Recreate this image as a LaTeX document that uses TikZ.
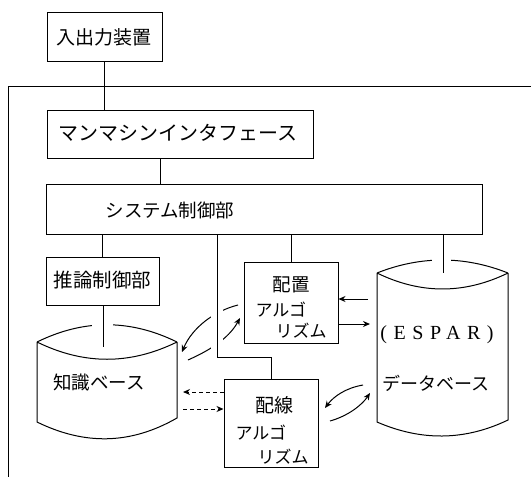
\documentclass[tikz,border=0pt]{standalone}
\usepackage{fontspec}
\newfontfamily\jp{Noto Sans CJK JP}
\newfontfamily\esparfont[LetterSpace=33]{Liberation Serif}
\usetikzlibrary{arrows.meta,calc}
\begin{document}
\begin{tikzpicture}[x=1pt,y=-1pt,line width=1pt,
  blk/.style={draw,line width=1pt,inner sep=0pt},
  lbl/.style={inner sep=0pt,font=\jp\fontsize{#1}{#1}\selectfont},
  lbl/.default=18,
  arr/.style={-{Stealth[length=7pt,width=6pt]},line width=1pt},
  darr/.style={arr,dashed,dash pattern=on 4pt off 3pt}]
\useasboundingbox (0,0) rectangle (531,477);

% outer frame (open to the right and bottom)
\draw (531,86) -- (8,86) -- (8,477);

% boxes
\node[blk,minimum width=115pt,minimum height=49pt] (io)  at (104.5,36.5) {};
\node[blk,minimum width=266pt,minimum height=48pt] (mmi) at (180,134) {};
\node[blk,minimum width=436pt,minimum height=50pt] (sys) at (264,209) {};
\node[blk,minimum width=113pt,minimum height=48pt] (inf) at (102.5,281) {};
\node[blk,minimum width=94pt,minimum height=81pt]  (place) at (291,302.5) {};
\node[blk,minimum width=94pt,minimum height=88pt]  (wire)  at (271,423) {};

% labels
\node[lbl=19] (tio) at (104,37) {入出力装置};
\node[lbl=20] (tmmi) at (178,133) {マンマシンインタフェース};
\node[lbl=18.5] (tsys) at (170,210) {システム制御部};
\node[lbl=19.5] (tinf) at (102.5,280) {推論制御部};
\node[lbl=18.5] (tpl1) at (291,285) {配置};
\node[lbl=17, anchor=west] (tpl2) at (255,310) {アルゴ};
\node[lbl=17, anchor=west] (tpl3) at (275,331) {リズム};
\node[lbl=19] (twi1) at (274,405) {配線};
\node[lbl=17, anchor=west] (twi2) at (235,433) {アルゴ};
\node[lbl=17, anchor=west] (twi3) at (257,457) {リズム};

% knowledge base cylinder
\draw (37,342) .. controls (84,319) and (130,319) .. (177,342)
      (37,342) .. controls (84,365) and (130,365) .. (177,342)
      (37,342) -- (37,422) .. controls (84,445) and (130,445) .. (177,418) -- (177,342);
\fill[white] (92,318) rectangle (113,334);
\coordinate (kbtop) at (103,347);
\node[lbl=18.5] (tkb) at (99,383) {知識ベース};

% database cylinder
\draw (377,273) .. controls (420.7,255.7) and (464.3,255.7) .. (508,273)
      (377,273) .. controls (420.7,294.3) and (464.3,294.3) .. (508,273)
      (377,273) -- (377,422) .. controls (420.7,441) and (464.3,441) .. (508,420) -- (508,273);
\fill[white] (432,252) rectangle (451,267);
\coordinate (dbtop) at (443,273);
\node[inner sep=0pt,font=\esparfont\fontsize{20}{20}\selectfont] (tespar) at (437,335) {(ESPAR)};
\node[lbl=18] (tdb) at (436,383) {データベース};

% tree connectors
\draw (io.south) -- (io.south |- mmi.north);
\draw (160,0 |- mmi.south) -- (160,0 |- sys.north);
\draw (inf.north) -- (inf.north |- sys.south);
\draw (inf.south -| kbtop) -- (kbtop);
\draw (place.north) -- (place.north |- sys.south);
\draw (443,0 |- sys.south) -- (dbtop);

% curved arrows between knowledge base and placement
\coordinate (a1s) at (238,305);
\coordinate (a1e) at (182,352);
\coordinate (a2s) at (188,360);
\coordinate (a2e) at (240,318);
\draw[arr] (a1s) .. controls (214,311) and (192,328) .. (a1e);
\draw[arr] (a2s) .. controls (206,352) and (228,340) .. (a2e);
\fill[white] (211,298) rectangle (223,352);

% line to wiring box
\draw (217,0 |- sys.south) -- (217,357) -| (wire.north);

% placement <-> database
\coordinate (b1s) at (368,299);
\coordinate (b2e) at (370,324);
\draw[arr] (b1s) -- (b1s -| place.east);
\draw[arr] (place.east |- b2e) -- (b2e);

% knowledge base <-> wiring (dashed)
\coordinate (c1e) at (183,392);
\coordinate (c2s) at (183,409);
\draw[darr] (wire.west |- c1e) -- (c1e);
\draw[darr] (c2s) -- (c2s -| wire.west);

% database <-> wiring
\coordinate (d1s) at (363,385);
\coordinate (d1e) at (325,408);
\coordinate (d2s) at (330,421);
\coordinate (d2e) at (370,393);
\draw[arr] (d1s) .. controls (346,388) and (334,396) .. (d1e);
\draw[arr] (d2s) .. controls (348,416) and (362,405) .. (d2e);
\end{tikzpicture}
\end{document}
